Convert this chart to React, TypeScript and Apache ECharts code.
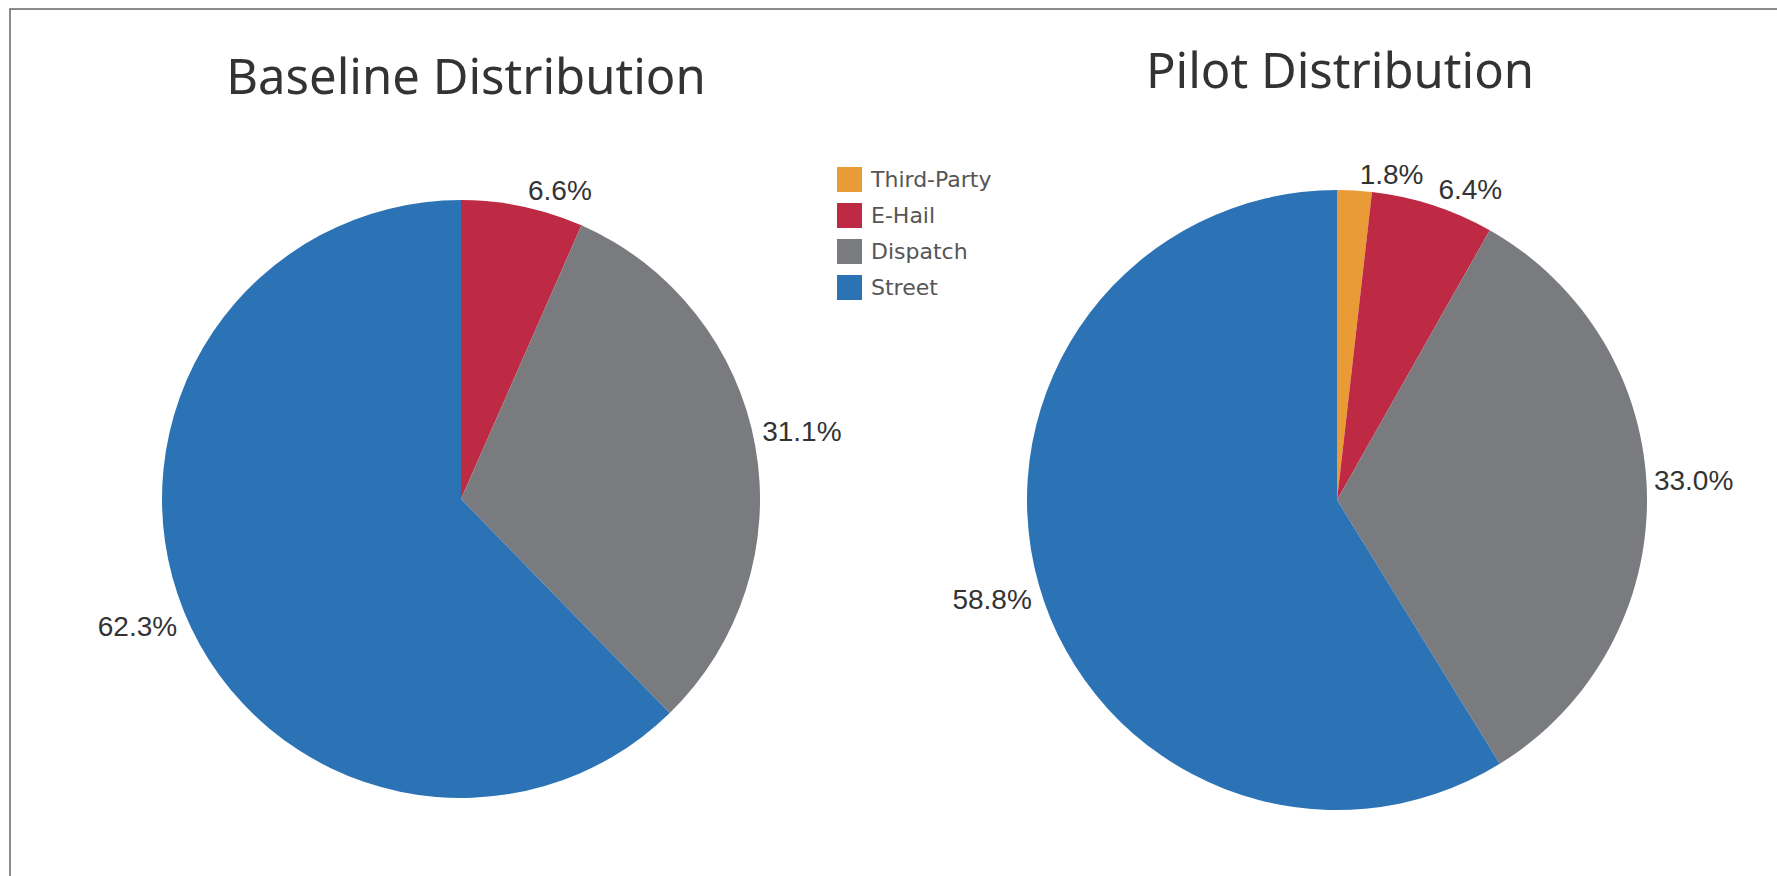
import React, { useEffect, useRef } from "react";
import * as echarts from "echarts";

const categories = ["Third-Party", "E-Hail", "Dispatch", "Street"];
const colors: Record<string, string> = {
  "Third-Party": "#E99C35",
  "E-Hail": "#BE2A44",
  Dispatch: "#7A7B7E",
  Street: "#2C73B5",
};
const baselineCats = ["E-Hail", "Dispatch", "Street"];
const baselineValues = [6.6, 31.1, 62.3];
const pilotCats = ["Third-Party", "E-Hail", "Dispatch", "Street"];
const pilotValues = [1.8, 6.4, 33.0, 58.8];
const titles = ["Baseline Distribution", "Pilot Distribution"];

const LABEL_SIZE = 28;

export default function App() {
  const ref = useRef<HTMLDivElement>(null);
  useEffect(() => {
    document.body.style.margin = "0";
    const chart = echarts.init(ref.current!, null, { renderer: "svg" });
    // Labels in the upper half sit above their anchor, lower half below.
    const mk = (cats: string[], vals: number[]) => {
      const total = vals.reduce((a, b) => a + b, 0);
      let cum = 0;
      return cats.map((c, i) => {
        const mid = (cum + vals[i] / 2) / total;
        cum += vals[i];
        const upper = mid < 0.25 || mid > 0.75;
        return { name: c, value: vals[i], upper, itemStyle: { color: colors[c] } };
      });
    };
    const labelStyle = {
      show: true,
      position: "outside",
      formatter: (p: any) => {
        const t = Number(p.value).toFixed(1) + "%";
        return p.data.upper ? t + "\n" : "\n" + t;
      },
      fontFamily: "Liberation Sans, Arial, sans-serif",
      fontSize: LABEL_SIZE,
      lineHeight: LABEL_SIZE,
      color: "#333",
    };
    const titleStyle = { fontFamily: "Noto Sans", fontSize: 49, fontWeight: "normal", color: "#333" };
    chart.setOption({
      animation: false,
      backgroundColor: "#fff",
      title: [
        { text: titles[0], left: 461, top: 45, textAlign: "center", textStyle: titleStyle },
        { text: titles[1], left: 1335, top: 39, textAlign: "center", textStyle: titleStyle },
      ],
      legend: {
        data: categories,
        orient: "vertical",
        left: 832,
        top: 162,
        itemWidth: 25,
        itemHeight: 25,
        itemGap: 11,
        icon: "rect",
        selectedMode: false,
        textStyle: { fontFamily: "DejaVu Sans", fontSize: 22, color: "#555", padding: [0, 0, 0, 4] },
      },
      graphic: [
        {
          type: "rect",
          shape: { x: 10, y: 9, width: 1800, height: 900 },
          style: { fill: "none", stroke: "#666", lineWidth: 1.5 },
          silent: true,
        },
      ],
      series: [
        {
          type: "pie",
          center: [461, 499],
          radius: 299,
          startAngle: 90,
          clockwise: true,
          avoidLabelOverlap: false,
          itemStyle: { borderWidth: 0 },
          label: labelStyle,
          labelLine: { show: false, length: 2, length2: 0 },
          emphasis: { disabled: true },
          data: mk(baselineCats, baselineValues),
        },
        {
          type: "pie",
          center: [1337, 500],
          radius: 310,
          startAngle: 90,
          clockwise: true,
          avoidLabelOverlap: false,
          itemStyle: { borderWidth: 0 },
          label: labelStyle,
          labelLine: { show: false, length: 2, length2: 0 },
          emphasis: { disabled: true },
          data: mk(pilotCats, pilotValues),
        },
      ],
    });
    return () => chart.dispose();
  }, []);
  return <div ref={ref} style={{ width: 1777, height: 876 }} />;
}
